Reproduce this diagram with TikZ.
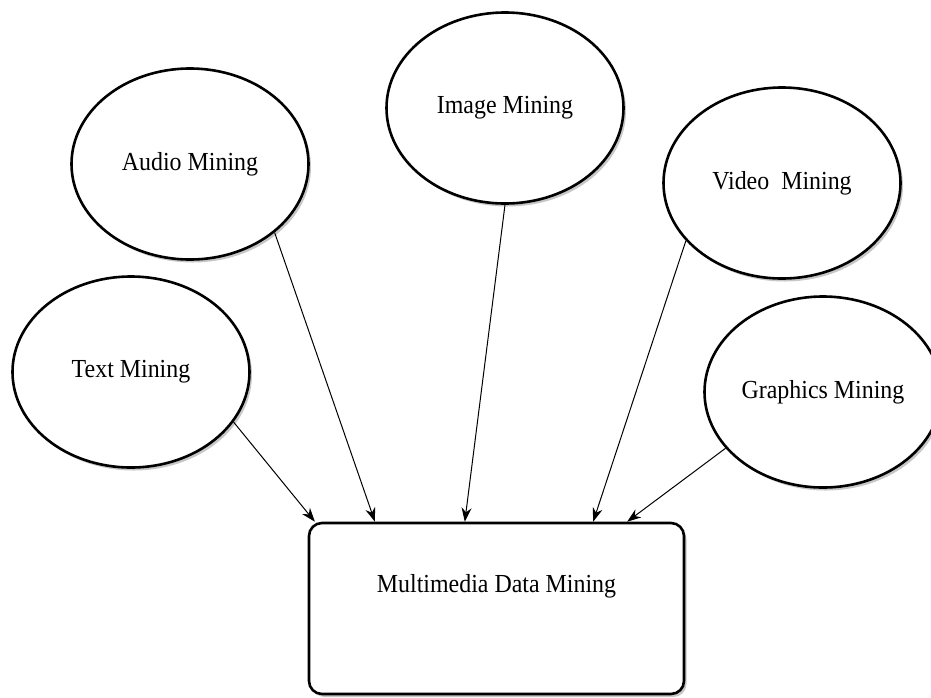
\documentclass[tikz,border=0pt]{standalone}
\usepackage{fontspec}
\setmainfont{Liberation Serif}[FakeStretch=0.92]
\usetikzlibrary{shapes.geometric,arrows.meta,shadows,calc}
\tikzset{
  topic/.style={ellipse, draw=black, line width=2.6pt, fill=white,
    minimum width=237pt, minimum height=191pt, inner sep=0pt,
    font=\fontsize{26}{30}\selectfont,
    drop shadow={shadow xshift=2.5pt, shadow yshift=-3pt, opacity=0.22, fill=black}},
  mainbox/.style={rectangle, rounded corners=13pt, draw=black, line width=2.6pt, fill=white,
    minimum width=375pt, minimum height=171pt, inner sep=0pt,
    font=\fontsize{26}{30}\selectfont, text height=19pt, text depth=51pt,
    drop shadow={shadow xshift=2.5pt, shadow yshift=-3pt, opacity=0.22, fill=black}},
  feed/.style={draw=black, line width=1pt, -{Stealth[length=14pt,width=10pt]}}
}
\begin{document}
\begin{tikzpicture}[x=1pt,y=-1pt]
\useasboundingbox (0,0) rectangle (931,697);
\clip (0,0) rectangle (931,697);
\node[topic] (audio) at (190,164) {Audio Mining};
\node[topic] (image) at (505,108) {Image Mining};
\node[topic] (video) at (782,183) {Video\ \ Mining};
\node[topic] (text) at (131,372) {Text Mining};
\node[topic] (graphics) at (823,392) {Graphics Mining};
\node[mainbox] (box) at (496.5,608.5) {Multimedia Data Mining};
\coordinate (t1) at ($(box.north west)!0.019!(box.north east)$);
\coordinate (t2) at ($(box.north west)!0.178!(box.north east)$);
\coordinate (t3) at ($(box.north west)!0.416!(box.north east)$);
\coordinate (t4) at ($(box.north west)!0.756!(box.north east)$);
\coordinate (t5) at ($(box.north west)!0.846!(box.north east)$);
\draw[feed] (text.-26) -- (t1);
\draw[feed] (audio.-39) -- (t2);
\draw[feed] (image.south) -- (t3);
\draw[feed] (video.-149) -- (t4);
\draw[feed] (graphics.210) -- (t5);
\end{tikzpicture}
\end{document}
